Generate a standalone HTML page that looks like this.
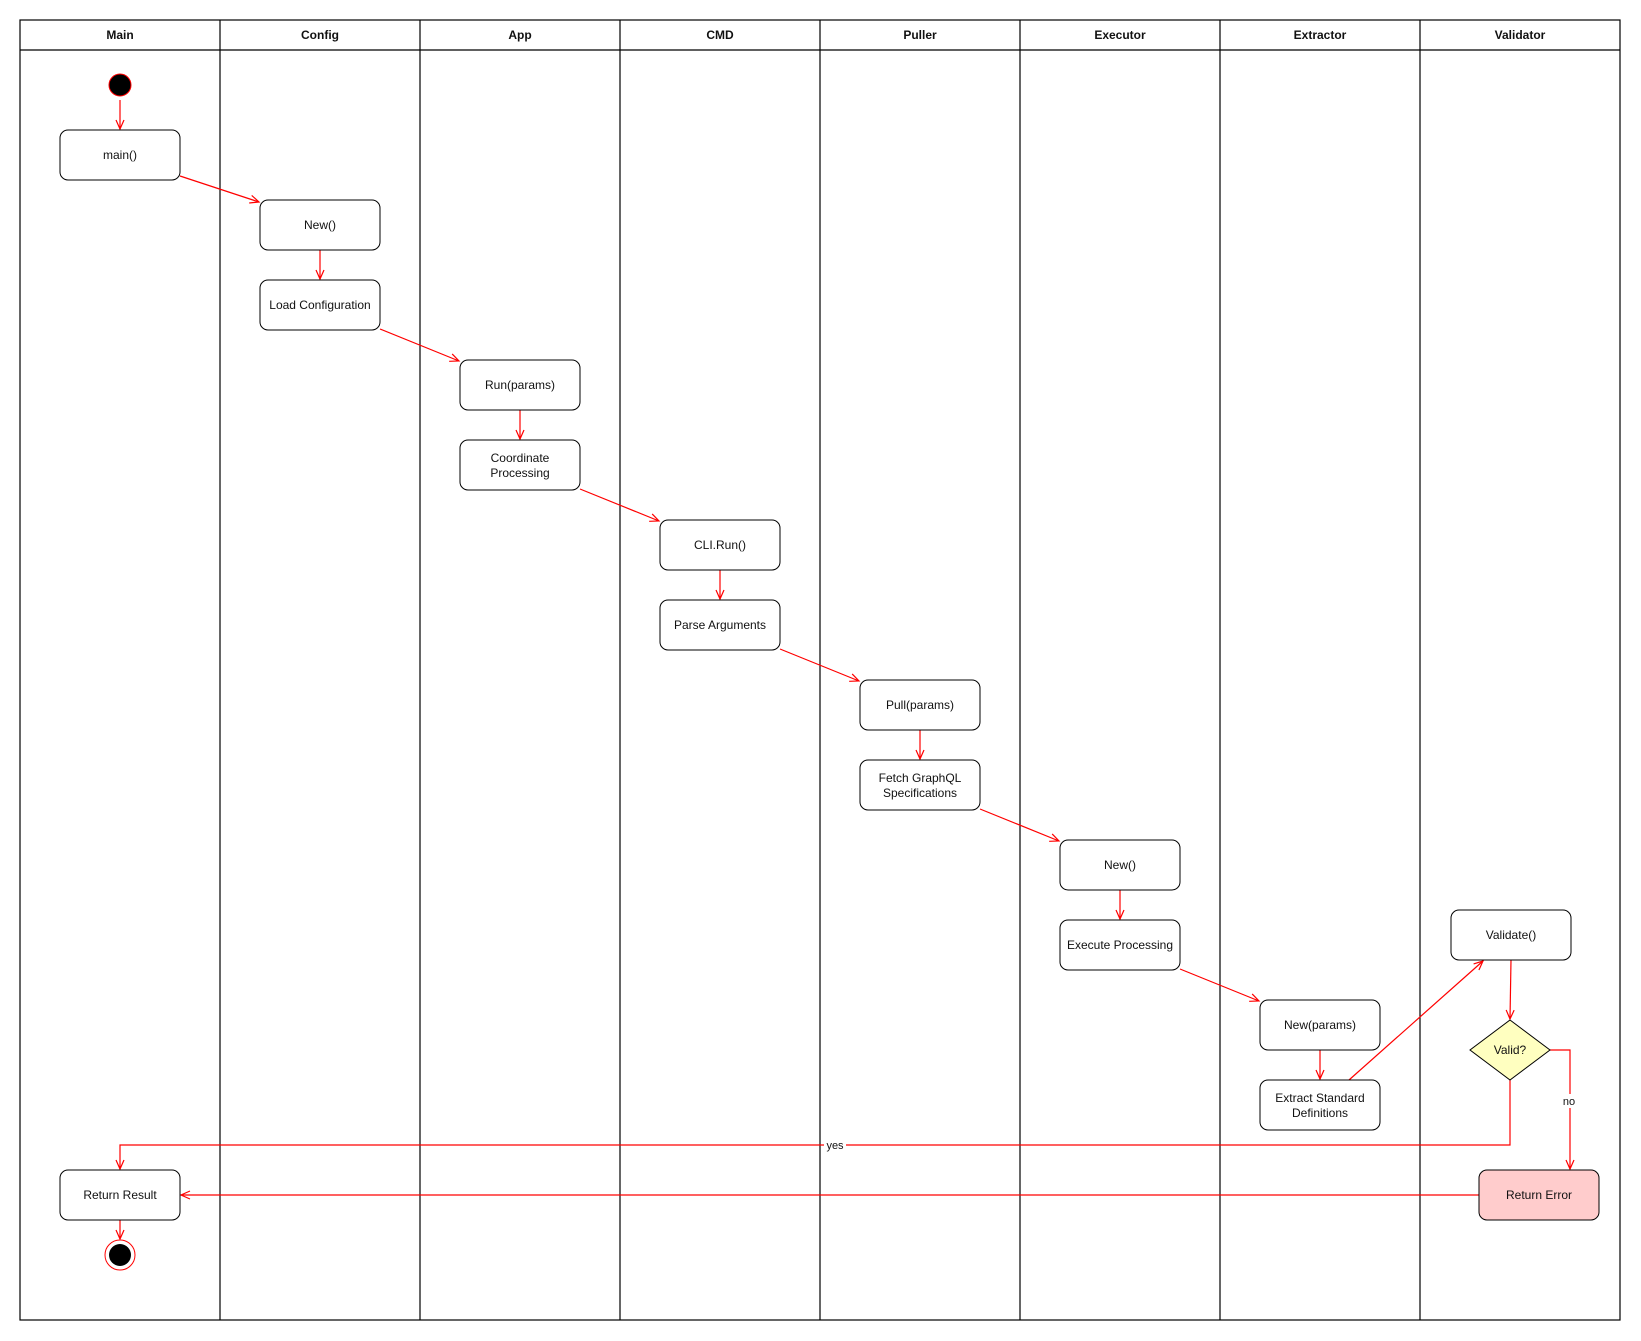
<!DOCTYPE html>
<html><head><meta charset="utf-8"><style>
html,body{margin:0;padding:0;background:#fff}
svg{display:block}
text{font-family:"Liberation Sans",sans-serif;font-size:12px;fill:#111}
.h{font-weight:bold}
.b{fill:#fff;stroke:#000;stroke-width:1}
.l{stroke:#f00;stroke-width:1.2;fill:none}
</style></head><body>
<svg width="1641" height="1341" viewBox="0 0 1641 1341" xmlns="http://www.w3.org/2000/svg">
<defs><marker id="a" markerWidth="12" markerHeight="12" refX="10" refY="5" orient="auto" markerUnits="userSpaceOnUse"><path d="M1,1 L10,5 L1,9" fill="none" stroke="#f00" stroke-width="1.2"/></marker></defs>
<g stroke="#000" stroke-width="1.2" fill="none">
<rect x="20" y="20" width="1600" height="1300"/>
<line x1="20" y1="50" x2="1620" y2="50"/>
<line x1="220" y1="20" x2="220" y2="1320"/><line x1="420" y1="20" x2="420" y2="1320"/>
<line x1="620" y1="20" x2="620" y2="1320"/><line x1="820" y1="20" x2="820" y2="1320"/>
<line x1="1020" y1="20" x2="1020" y2="1320"/><line x1="1220" y1="20" x2="1220" y2="1320"/>
<line x1="1420" y1="20" x2="1420" y2="1320"/>
</g>
<g text-anchor="middle" class="h">
<text x="120" y="39" class="h">Main</text><text x="320" y="39" class="h">Config</text><text x="520" y="39" class="h">App</text><text x="720" y="39" class="h">CMD</text><text x="920" y="39" class="h">Puller</text><text x="1120" y="39" class="h">Executor</text><text x="1320" y="39" class="h">Extractor</text><text x="1520" y="39" class="h">Validator</text>
</g>
<line class="l" x1="120" y1="100" x2="120" y2="129" marker-end="url(#a)"/>
<line class="l" x1="180" y1="176" x2="259" y2="202" marker-end="url(#a)"/>
<line class="l" x1="320" y1="250" x2="320" y2="279" marker-end="url(#a)"/>
<line class="l" x1="380" y1="329" x2="459" y2="361" marker-end="url(#a)"/>
<line class="l" x1="520" y1="410" x2="520" y2="439" marker-end="url(#a)"/>
<line class="l" x1="580" y1="489" x2="659" y2="521" marker-end="url(#a)"/>
<line class="l" x1="720" y1="570" x2="720" y2="599" marker-end="url(#a)"/>
<line class="l" x1="780" y1="649" x2="859" y2="681" marker-end="url(#a)"/>
<line class="l" x1="920" y1="730" x2="920" y2="759" marker-end="url(#a)"/>
<line class="l" x1="980" y1="809" x2="1059" y2="841" marker-end="url(#a)"/>
<line class="l" x1="1120" y1="890" x2="1120" y2="919" marker-end="url(#a)"/>
<line class="l" x1="1180" y1="969" x2="1259" y2="1001" marker-end="url(#a)"/>
<line class="l" x1="1320" y1="1050" x2="1320" y2="1079" marker-end="url(#a)"/>
<line class="l" x1="1349" y1="1080" x2="1483" y2="961" marker-end="url(#a)"/>
<line class="l" x1="1511" y1="960" x2="1510" y2="1019" marker-end="url(#a)"/>
<polyline class="l" points="1550,1050 1570,1050 1570,1169" marker-end="url(#a)"/>
<polyline class="l" points="1510,1080 1510,1145 120,1145 120,1169" marker-end="url(#a)"/>
<line class="l" x1="1479" y1="1195" x2="181" y2="1195" marker-end="url(#a)"/>
<line class="l" x1="120" y1="1220" x2="120" y2="1239" marker-end="url(#a)"/>
<rect x="824" y="1138" width="22" height="14" fill="#fff"/>
<text x="835" y="1149" text-anchor="middle" style="font-size:11px">yes</text>
<rect x="1560" y="1094" width="20" height="14" fill="#fff"/>
<text x="1569" y="1105" text-anchor="middle" style="font-size:11px">no</text>
<circle cx="120" cy="85" r="11" fill="#000" stroke="#f00"/>
<circle cx="120" cy="1255" r="15" fill="#fff" stroke="#f00"/>
<circle cx="120" cy="1255" r="11" fill="#000"/>
<g text-anchor="middle">
<rect class="b" x="60" y="130" width="120" height="50" rx="8"/><text x="120" y="159">main()</text>
<rect class="b" x="260" y="200" width="120" height="50" rx="8"/><text x="320" y="229">New()</text>
<rect class="b" x="260" y="280" width="120" height="50" rx="8"/><text x="320" y="309">Load Configuration</text>
<rect class="b" x="460" y="360" width="120" height="50" rx="8"/><text x="520" y="389">Run(params)</text>
<rect class="b" x="460" y="440" width="120" height="50" rx="8"/><text x="520" y="462">Coordinate</text><text x="520" y="477">Processing</text>
<rect class="b" x="660" y="520" width="120" height="50" rx="8"/><text x="720" y="549">CLI.Run()</text>
<rect class="b" x="660" y="600" width="120" height="50" rx="8"/><text x="720" y="629">Parse Arguments</text>
<rect class="b" x="860" y="680" width="120" height="50" rx="8"/><text x="920" y="709">Pull(params)</text>
<rect class="b" x="860" y="760" width="120" height="50" rx="8"/><text x="920" y="782">Fetch GraphQL</text><text x="920" y="797">Specifications</text>
<rect class="b" x="1060" y="840" width="120" height="50" rx="8"/><text x="1120" y="869">New()</text>
<rect class="b" x="1060" y="920" width="120" height="50" rx="8"/><text x="1120" y="949">Execute Processing</text>
<rect class="b" x="1260" y="1000" width="120" height="50" rx="8"/><text x="1320" y="1029">New(params)</text>
<rect class="b" x="1260" y="1080" width="120" height="50" rx="8"/><text x="1320" y="1102">Extract Standard</text><text x="1320" y="1117">Definitions</text>
<rect class="b" x="1451" y="910" width="120" height="50" rx="8"/><text x="1511" y="939">Validate()</text>
<polygon points="1510,1020 1550,1050 1510,1080 1470,1050" fill="#ffffc0" stroke="#000"/><text x="1510" y="1054">Valid?</text>
<rect x="1479" y="1170" width="120" height="50" rx="8" fill="#ffcccc" stroke="#000"/><text x="1539" y="1199">Return Error</text>
<rect class="b" x="60" y="1170" width="120" height="50" rx="8"/><text x="120" y="1199">Return Result</text>
</g>
</svg>
</body></html>
